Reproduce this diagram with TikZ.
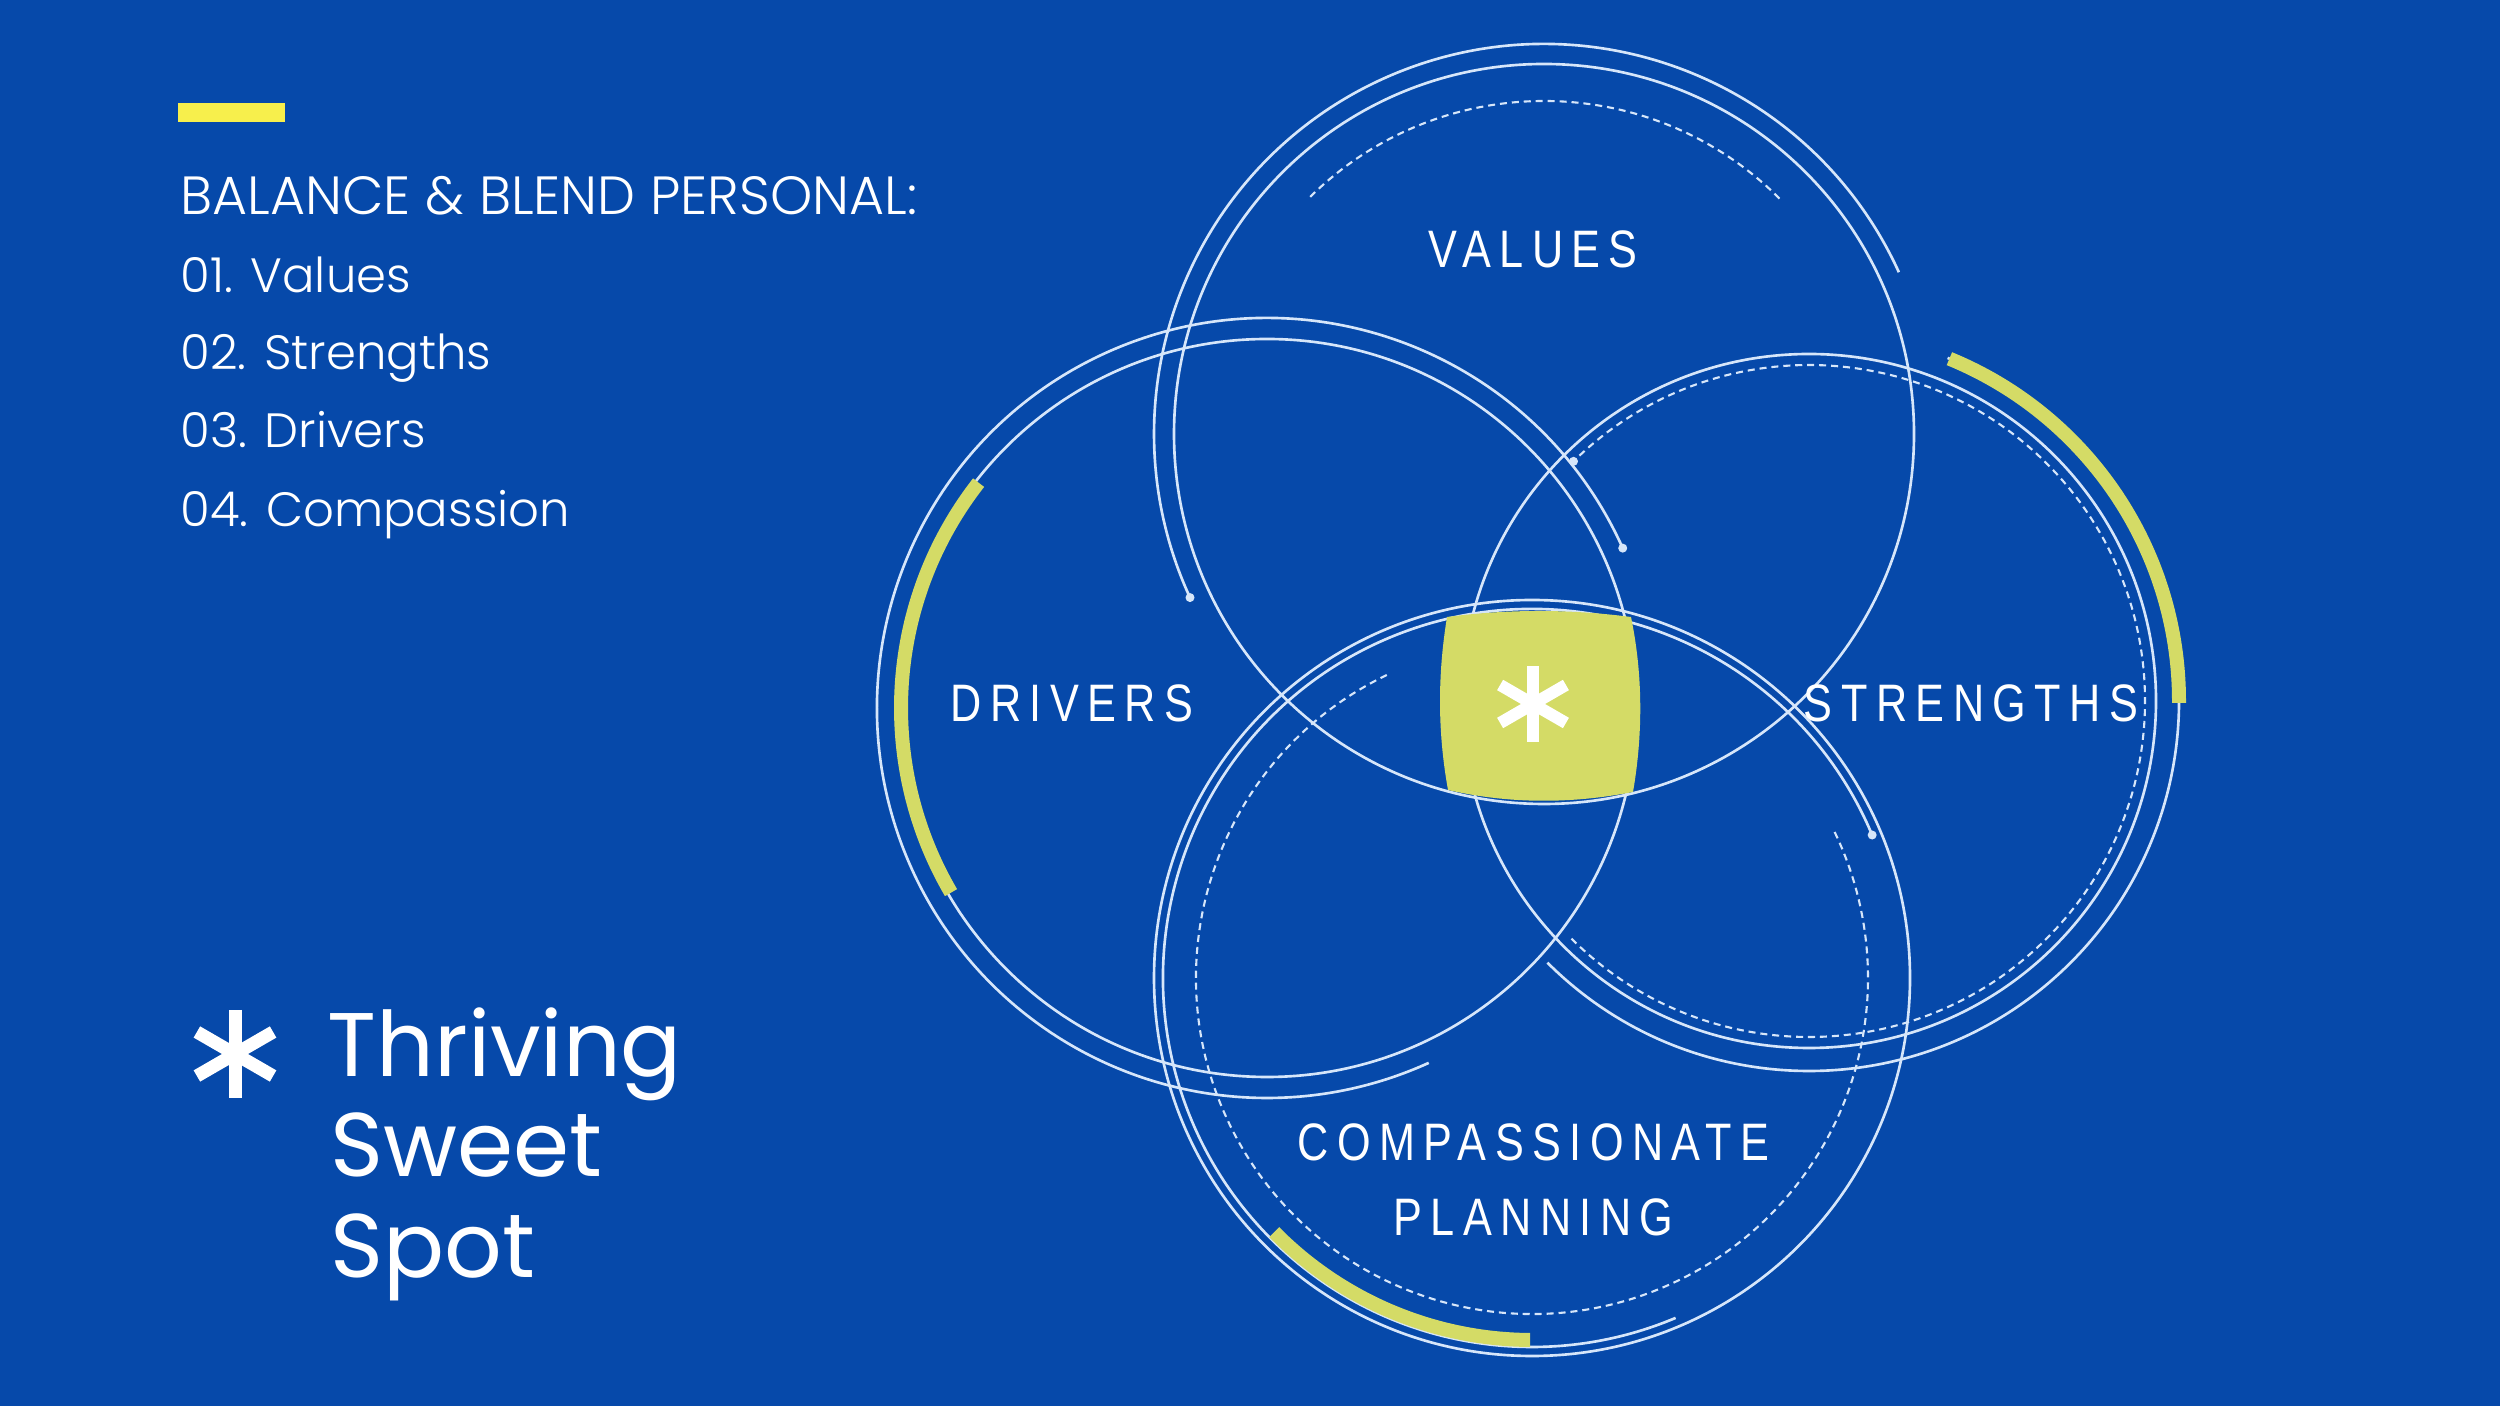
\documentclass[tikz,border=0pt]{standalone}
\usepackage{fontspec}
\IfFontExistsTF{Poppins Light}{\newfontfamily\listfont{Poppins Light}}{\newfontfamily\listfont{Poppins}}
\newfontfamily\titlefont{Poppins}
\newfontfamily\lblfont[FakeStretch=0.82,LetterSpace=16]{Liberation Sans}
\definecolor{bgblue}{RGB}{6,73,170}
\definecolor{ringc}{RGB}{214,230,250}
\definecolor{limec}{RGB}{212,219,102}
\definecolor{barcol}{RGB}{247,239,76}
\begin{document}
\begin{tikzpicture}[
  ring/.style={draw=ringc, line width=0.75pt},
  dashring/.style={draw=ringc, line width=0.6pt, dash pattern=on 2pt off 1.4pt},
  limearc/.style={draw=limec, line width=1.4mm, line cap=butt},
  enddot/.style={fill=ringc},
  headtxt/.style={anchor=base west, inner sep=0pt, text=white, font=\listfont\fontsize{15.3}{17}\selectfont},
  listtxt/.style={anchor=base west, inner sep=0pt, text=white, font=\listfont\fontsize{13.7}{16}\selectfont},
  titletxt/.style={anchor=base west, inner sep=0pt, text=white, font=\titlefont\fontsize{25.7}{28}\selectfont},
  lbl/.style={anchor=base, inner sep=0pt, text=white, font=\lblfont\fontsize{15}{17}\selectfont}
]
\useasboundingbox (0,0) rectangle (25,14.06);
\fill[bgblue] (0,0) rectangle (25,14.06);

\coordinate (V) at (15.44,9.72);
\coordinate (D) at (12.67,6.98);
\coordinate (S) at (18.09,7.05);
\coordinate (C) at (15.32,4.28);

% Values
\draw[ring] (V) circle[radius=3.70];
\draw[ring] ([shift={(24.5:3.90)}]V) arc[start angle=24.5,end angle=204.8,radius=3.90];
\fill[enddot] ([shift={(204.8:3.90)}]V) circle[radius=0.045];
\draw[dashring] ([shift={(45:3.33)}]V) arc[start angle=45,end angle=135,radius=3.33];

% Drivers
\draw[ring] (D) circle[radius=3.69];
\draw[ring] ([shift={(24.2:3.90)}]D) arc[start angle=24.2,end angle=294.5,radius=3.90];
\fill[enddot] ([shift={(24.2:3.90)}]D) circle[radius=0.045];

% Strengths
\draw[ring] (S) circle[radius=3.47];
\draw[ring] ([shift={(-135:3.70)}]S) arc[start angle=-135,end angle=68,radius=3.70];
\draw[dashring] ([shift={(-135:3.36)}]S) arc[start angle=-135,end angle=134.5,radius=3.36];
\fill[enddot] ([shift={(134.5:3.36)}]S) circle[radius=0.045];

% Compassion
\draw[ring] (C) circle[radius=3.78];
\draw[ring] ([shift={(22.8:3.69)}]C) arc[start angle=22.8,end angle=292.9,radius=3.69];
\fill[enddot] ([shift={(22.8:3.69)}]C) circle[radius=0.045];
\draw[dashring] ([shift={(115.6:3.36)}]C) arc[start angle=115.6,end angle=385.9,radius=3.36];

% lime arcs
\draw[limearc] ([shift={(142:3.66)}]D) arc[start angle=142,end angle=210.3,radius=3.66];
\draw[limearc] ([shift={(-0.3:3.70)}]S) arc[start angle=-0.3,end angle=67.7,radius=3.70];
\draw[limearc] ([shift={(224.6:3.62)}]C) arc[start angle=224.6,end angle=269.7,radius=3.62];

% sweet spot
\fill[limec] (14.47,7.89) .. controls (15.08,7.97) and (15.70,7.97) .. (16.31,7.89)
  .. controls (16.43,7.31) and (16.43,6.72) .. (16.33,6.14)
  .. controls (15.71,6.02) and (15.09,6.02) .. (14.48,6.16)
  .. controls (14.375,6.74) and (14.375,7.31) .. cycle;
\coordinate (A1) at (15.33,7.02);
\foreach \a in {90,30,150}
  \draw[white, line width=0.12cm, line cap=butt] ([shift={(\a:0.38)}]A1) -- ([shift={(\a+180:0.38)}]A1);

% labels
\node[lbl] (lv) at (15.33,11.385) {VALUES};
\node[lbl] (ld) at (10.72,6.84) {DRIVERS};
\node[lbl] (ls) at (19.71,6.84) {STRENGTHS};
\node[lbl] (lc1) at (15.335,2.45) {COMPASSIONATE};
\node[lbl] (lc2) at (15.335,1.70) {PLANNING};

% left block
\fill[barcol] (1.78,13.03) rectangle (2.85,12.84);
\node[headtxt] (t0) at (1.80,11.91) {BALANCE \& BLEND PERSONAL:};
\node[listtxt] (t1) at (1.80,11.13) {01. Values};
\node[listtxt] (t2) at (1.80,10.36) {02. Strengths};
\node[listtxt] (t3) at (1.80,9.58) {03. Drivers};
\node[listtxt] (t4) at (1.80,8.79) {04. Compassion};

\coordinate (A2) at (2.35,3.52);
\foreach \a in {90,30,150}
  \draw[white, line width=0.13cm, line cap=butt] ([shift={(\a:0.44)}]A2) -- ([shift={(\a+180:0.44)}]A2);
\node[titletxt] (s1) at (3.27,3.29) {Thriving};
\node[titletxt] (s2) at (3.30,2.29) {Sweet};
\node[titletxt] (s3) at (3.30,1.28) {Spot};
\end{tikzpicture}
\end{document}
